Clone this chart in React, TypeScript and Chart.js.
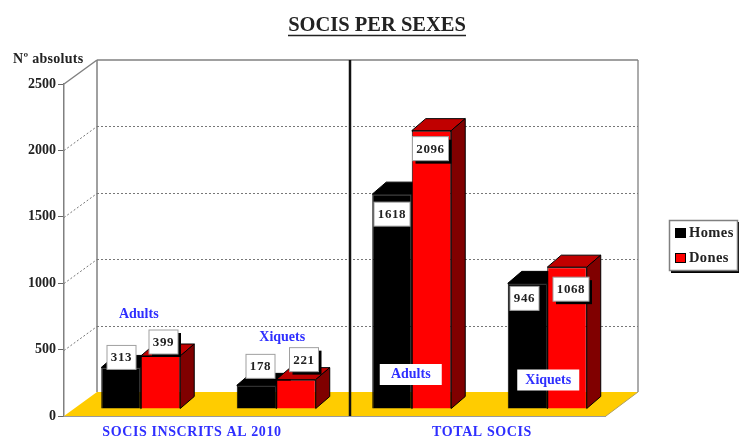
import React, { useEffect, useRef } from "react";
import { Chart, registerables } from "chart.js";

Chart.register(...registerables);

const categories = ["Adults inscrits", "Xiquets inscrits", "Adults total", "Xiquets total"];
const homes = [313, 178, 1618, 946];
const dones = [399, 221, 2096, 1068];
const yTicks = [0, 500, 1000, 1500, 2000, 2500];
const seriesNames = ["Homes", "Dones"];
const groupNames = ["SOCIS INSCRITS AL 2010", "TOTAL SOCIS"];
const noteNames = ["Adults", "Xiquets", "Adults", "Xiquets"];

const SERIF = '"Liberation Serif", serif';
const BLUE = "#2f2fff";
const DEPTH_X = 33;
const DEPTH_Y = 24;
const BAR_SHIFT_X = 9;
const BAR_SHIFT_Y = -7;
const BAR_DX = 14;
const BAR_DY = 12;

const homeNudges = [[0.5, -10], [4, -19], [0, 20], [-3, 15]];
const doneNudges = [[3, -14], [8, -20], [-1, 18], [4, 22]];

function poly(ctx: CanvasRenderingContext2D, pts: number[][], fill: string, stroke?: string) {
  ctx.beginPath();
  pts.forEach((p, i) => (i ? ctx.lineTo(p[0], p[1]) : ctx.moveTo(p[0], p[1])));
  ctx.closePath();
  ctx.fillStyle = fill;
  ctx.fill();
  if (stroke) {
    ctx.strokeStyle = stroke;
    ctx.lineWidth = 1;
    ctx.stroke();
  }
}

function line(ctx: CanvasRenderingContext2D, x1: number, y1: number, x2: number, y2: number, color: string, width = 1, dash: number[] = []) {
  ctx.save();
  ctx.beginPath();
  ctx.setLineDash(dash);
  ctx.strokeStyle = color;
  ctx.lineWidth = width;
  ctx.moveTo(x1, y1);
  ctx.lineTo(x2, y2);
  ctx.stroke();
  ctx.restore();
}

function text(ctx: CanvasRenderingContext2D, s: string, x: number, y: number, font: string, color: string, align: CanvasTextAlign = "center", spacing = "0px") {
  ctx.save();
  ctx.font = font;
  ctx.fillStyle = color;
  ctx.textAlign = align;
  ctx.textBaseline = "middle";
  (ctx as any).letterSpacing = spacing;
  ctx.fillText(s, x, y);
  ctx.restore();
}

const scene = {
  id: "scene",
  beforeDatasetsDraw(chart: any) {
    const { ctx, chartArea: a, scales } = chart;
    const y = scales.y;
    const backL = a.left + DEPTH_X;
    const backR = a.right + DEPTH_X - 1;
    const floorB = a.bottom - DEPTH_Y;
    ctx.save();
    poly(ctx, [[a.left, a.bottom], [a.right, a.bottom], [backR, floorB], [backL, floorB]], "#ffcc00");
    line(ctx, a.left, a.bottom + 0.5, a.right, a.bottom + 0.5, "#9a9a9a", 1);
    line(ctx, a.right, a.bottom, backR, floorB, "#b0a060", 1);
    line(ctx, backL, a.top - DEPTH_Y, backL, floorB, "#808080", 1.5);
    line(ctx, backR, a.top - DEPTH_Y, backR, floorB, "#909090", 1.5);
    line(ctx, backL, a.top - DEPTH_Y, backR, a.top - DEPTH_Y, "#808080", 1.5);
    line(ctx, a.left, a.top, backL, a.top - DEPTH_Y, "#808080", 1.5);
    yTicks.forEach((t) => {
      if (t === 0 || t === 2500) return;
      const py = Math.round(y.getPixelForValue(t)) + 0.5;
      line(ctx, a.left, py, backL, py - DEPTH_Y, "#777777", 1, [2, 2]);
      line(ctx, backL, py - DEPTH_Y, backR, py - DEPTH_Y, "#777777", 1, [2, 2]);
    });
    const mid = (a.left + a.right) / 2 + 15;
    line(ctx, mid, a.top - DEPTH_Y, mid, a.bottom, "#111111", 2.5);

    // depth faces of every bar, black first
    [0, 1].forEach((d) => {
      const top = d === 0 ? "#000000" : "#c00000";
      const side = d === 0 ? "#000000" : "#800000";
      chart.getDatasetMeta(d).data.forEach((b: any) => {
        const l = b.x - b.width / 2 + BAR_SHIFT_X;
        const r = b.x + b.width / 2 + BAR_SHIFT_X;
        const t = b.y + BAR_SHIFT_Y;
        const bot = b.base + BAR_SHIFT_Y;
        poly(ctx, [[l, t], [r, t], [r + BAR_DX, t - BAR_DY], [l + BAR_DX, t - BAR_DY]], top, "#000000");
        poly(ctx, [[r, t], [r + BAR_DX, t - BAR_DY], [r + BAR_DX, bot - BAR_DY], [r, bot]], side, "#000000");
      });
    });
    ctx.restore();
  },
  beforeDatasetDraw(chart: any) {
    chart.ctx.save();
    chart.ctx.translate(BAR_SHIFT_X, BAR_SHIFT_Y);
  },
  afterDatasetDraw(chart: any) {
    chart.ctx.restore();
  },
  afterDatasetsDraw(chart: any) {
    const { ctx } = chart;
    const font = `bold 13px ${SERIF}`;
    const noteFont = `bold 14px ${SERIF}`;
    const drawBox = (meta: any, values: number[], nudges: number[][], shadow: boolean) => {
      values.forEach((v, i) => {
        const b = meta.data[i];
        const cx = b.x + BAR_SHIFT_X + nudges[i][0];
        const cy = b.y + BAR_SHIFT_Y + nudges[i][1];
        const w = v >= 1000 ? 36 : 29;
        const h = 24;
        if (shadow) {
          ctx.fillStyle = "#000000";
          ctx.fillRect(cx - w / 2 + 3, cy - h / 2 + 3, w, h);
        }
        ctx.fillStyle = "#ffffff";
        ctx.fillRect(cx - w / 2, cy - h / 2, w, h);
        ctx.strokeStyle = "#a0a0a0";
        ctx.lineWidth = 1;
        ctx.strokeRect(cx - w / 2, cy - h / 2, w, h);
        text(ctx, String(v), cx, cy + 0.5, font, "#222222", "center", "0.6px");
      });
    };
    drawBox(chart.getDatasetMeta(0), homes, homeNudges, false);
    drawBox(chart.getDatasetMeta(1), dones, doneNudges, true);

    const mh = chart.getDatasetMeta(0).data;
    const md = chart.getDatasetMeta(1).data;
    const groupX = (i: number) => (mh[i].x + md[i].x) / 2 + BAR_SHIFT_X;
    // notes above the small groups
    const noteY = [314, 337];
    [0, 1].forEach((i) => {
      const gx = groupX(i) + (i === 0 ? -2 : 6);
      if (i === 0) {
        ctx.fillStyle = "#ffffff";
        ctx.fillRect(gx - 31, noteY[i] - 10, 62, 22);
      }
      text(ctx, noteNames[i], gx, noteY[i], noteFont, BLUE);
    });
    // boxed notes on the tall groups
    const boxY = [374.5, 380];
    [2, 3].forEach((i, k) => {
      const gx = groupX(i) + (i === 2 ? -1 : 1);
      ctx.fillStyle = "#ffffff";
      ctx.fillRect(gx - 31, boxY[k] - 10.5, 62, 21);
      text(ctx, noteNames[i], gx, boxY[k], noteFont, BLUE);
    });

    text(ctx, groupNames[0], 192, 432, `bold 14px ${SERIF}`, BLUE, "center", "0.6px");
    text(ctx, groupNames[1], 482, 432, `bold 14px ${SERIF}`, BLUE, "center", "0.6px");

    // title
    text(ctx, "SOCIS PER SEXES", 377, 26, `bold 20.5px ${SERIF}`, "#222222");
    line(ctx, 288, 35.5, 466, 35.5, "#222222", 1.5);
    text(ctx, "Nº absoluts", 13, 59, `bold 14px ${SERIF}`, "#222222", "left", "0.3px");

    // legend
    const lx = 669, ly = 220, lw = 69, lh = 51;
    ctx.fillStyle = "#000000";
    ctx.fillRect(lx + 2, ly + 2, lw, lh);
    ctx.fillStyle = "#ffffff";
    ctx.fillRect(lx, ly, lw, lh);
    ctx.strokeStyle = "#808080";
    ctx.lineWidth = 1.5;
    ctx.strokeRect(lx + 0.5, ly + 0.5, lw - 1, lh - 1);
    ctx.lineWidth = 1;
    [["#000000", 233], ["#ff0000", 258]].forEach((row, i) => {
      const sy = row[1] as number;
      ctx.fillStyle = row[0] as string;
      ctx.fillRect(675, sy - 5, 11, 10);
      ctx.strokeStyle = "#000000";
      ctx.strokeRect(675.5, sy - 4.5, 10, 9);
      text(ctx, seriesNames[i], 689, sy, `bold 14.5px ${SERIF}`, "#222222", "left", "0.4px");
    });
  },
};

export default function App() {
  const ref = useRef<HTMLCanvasElement>(null);
  useEffect(() => {
    const chart = new Chart(ref.current as HTMLCanvasElement, {
      type: "bar",
      data: {
        labels: categories,
        datasets: [
          { label: seriesNames[0], data: homes, backgroundColor: "#000000", borderColor: "#000000", borderWidth: 1 },
          { label: seriesNames[1], data: dones, backgroundColor: "#ff0000", borderColor: "#000000", borderWidth: 1 },
        ],
      },
      options: {
        responsive: false,
        animation: false,
        events: [],
        layout: { padding: { top: 84, right: 133, bottom: 20, left: 0 } },
        categoryPercentage: 0.583,
        barPercentage: 1,
        plugins: { legend: { display: false }, title: { display: false }, tooltip: { enabled: false } },
        scales: {
          x: { display: false },
          y: {
            min: 0,
            max: 2500,
            afterFit: (s: any) => { s.width = 64; },
            afterBuildTicks: (s: any) => { s.ticks = yTicks.map((value) => ({ value })); },
            border: { color: "#808080", width: 1.5 },
            grid: { drawOnChartArea: false, drawTicks: true, tickLength: 6, color: "#666666" },
            ticks: { padding: 2, color: "#222222", callback: (v: any) => String(v), font: { family: SERIF, size: 14, weight: "bold" } },
          },
        },
      } as any,
      plugins: [scene],
    });
    return () => chart.destroy();
  }, []);
  return (
    <div style={{ position: "absolute", left: 0, top: 0, width: 739, height: 436, background: "#fff", overflow: "hidden" }}>
      <canvas ref={ref} width={739} height={436} style={{ display: "block", filter: "blur(0.6px)" }} />
    </div>
  );
}
